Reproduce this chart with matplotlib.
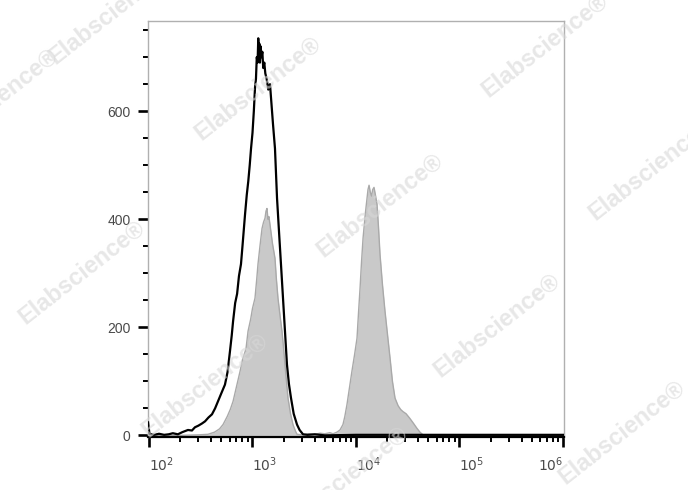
import matplotlib
matplotlib.use("Agg")
import matplotlib.pyplot as plt
import numpy as np

# black open histogram (control), fluorescence intensity vs count
ctrl_x = [98, 101, 112, 125, 140, 155, 170, 190, 210, 238, 260, 278, 300, 325,
          348, 375, 406, 435, 464, 500, 542, 575, 606, 630, 649, 680, 710, 740,
          774, 800, 847, 880, 910, 940, 968, 1000, 1030, 1057, 1080, 1100, 1120,
          1137, 1150, 1165, 1180, 1200, 1220, 1245, 1270, 1300, 1330, 1370, 1420,
          1476, 1578, 1649, 1726, 1800, 1884, 2014, 2153, 2250, 2356, 2500, 2692,
          2850, 3077, 3400, 4000, 5000, 10000, 100000, 1000000]
ctrl_y = [24, 3, 1, 3, 1, 2, 4, 2, 6, 10, 9, 15, 18, 22,
          26, 33, 39, 50, 63, 78, 94, 118, 156, 185, 211, 245, 262, 295,
          317, 350, 409, 445, 470, 500, 531, 560, 600, 643, 660, 700, 690,
          735, 700, 725, 690, 720, 700, 710, 680, 690, 670, 660, 640,
          650, 576, 531, 439, 380, 317, 224, 131, 95, 69, 40, 20,
          10, 2, 1, 2, 0, 1, 1, 1]

# grey filled histogram (stained sample), two populations
stain_x = [98, 200, 300, 372, 430, 480, 519, 570, 610, 649, 700, 757, 800, 865,
           906, 960, 1000, 1057, 1100, 1130, 1180, 1236, 1280, 1321, 1350, 1380,
           1410, 1440, 1476, 1560, 1649, 1700, 1763, 1850, 1927, 2000, 2060, 2130,
           2203, 2330, 2461, 2600, 2692, 3000, 3500, 4000, 4500, 5000, 5600, 6000,
           6546, 7000, 7480, 7800, 8180, 8600, 9140, 9700, 10230, 10600, 10940,
           11300, 11700, 12300, 13060, 13370, 13750, 14130, 14500, 14930, 15400,
           15960, 16500, 17060, 18000, 19060, 20200, 21330, 22500, 23830, 25500,
           27000, 28450, 30500, 33270, 36000, 38820, 41500, 44360, 50000, 1000000]
stain_y = [0, 0, 1, 2, 6, 12, 20, 35, 48, 63, 90, 118, 140, 160,
           193, 215, 235, 254, 290, 317, 350, 383, 395, 402, 415, 420,
           400, 405, 390, 355, 328, 290, 254, 220, 193, 160, 131, 100,
           69, 40, 20, 8, 2, 1, 3, 2, 4, 3, 5, 3,
           6, 10, 20, 35, 57, 85, 119, 150, 180, 230, 272,
           320, 365, 410, 455, 463, 450, 443, 455, 459, 445,
           428, 385, 335, 280, 230, 185, 143, 100, 69, 55,
           48, 44, 40, 31, 22, 13, 6, 1, 0, 0]

xtick_vals = [1e2, 1e3, 1e4, 1e5, 1e6]
xtick_text = ["$10^{2}$", "$10^{3}$", "$10^{4}$", "$10^{5}$", "$10^{6}$"]
ytick_vals = [0, 200, 400, 600]

watermark = "Elabscience\u00ae"
# watermark centres in pixels (x, y from top)
wm_pos = [(112, 12), (-5, 100), (258, 88), (545, 45), (380, 205), (652, 168),
          (82, 272), (497, 325), (205, 385), (622, 432), (345, 478)]

plt.rcParams['font.family'] = ['Liberation Sans', 'DejaVu Sans']

fig = plt.figure(figsize=(6.88, 4.90), dpi=100)
ax = fig.add_axes([148 / 688, 1 - 437 / 490, 416 / 688, 416 / 490])

ax.fill_between(stain_x, stain_y, 0, color='#c9c9c9', lw=0, zorder=1)
ax.plot(stain_x, stain_y, color='#a9a9a9', lw=1.0, zorder=2)
ax.plot(ctrl_x, ctrl_y, color='black', lw=1.6, zorder=3)

ax.set_xscale('log')
ax.set_xlim(97.8, 1.0226e6)
ax.set_ylim(-3, 767)

ax.set_xticks(xtick_vals)
ax.set_xticklabels(xtick_text)
ax.xaxis.set_minor_locator(matplotlib.ticker.LogLocator(base=10, subs=np.arange(2, 10)))
ax.xaxis.set_minor_formatter(matplotlib.ticker.NullFormatter())
ax.set_yticks(ytick_vals)
ax.yaxis.set_minor_locator(matplotlib.ticker.MultipleLocator(50))

ax.tick_params(which='major', length=7.5, width=1.9, color='black',
               labelsize=10, labelcolor='#4a4a4a', pad=5)
ax.tick_params(which='minor', length=3.5, width=1.4, color='black')
ax.tick_params(axis='x', which='major', pad=6)

for lab in ax.get_xticklabels():
    lab.set_horizontalalignment('left')
ax.get_xticklabels()[-1].set_horizontalalignment('right')

for side in ['top', 'right', 'left']:
    ax.spines[side].set_color('#b0b0b0')
    ax.spines[side].set_linewidth(1.0)
ax.spines['bottom'].set_color('black')
ax.spines['bottom'].set_linewidth(1.6)

for px, py in wm_pos:
    fig.text(px / 688, 1 - py / 490, watermark, rotation=38, ha='center',
             va='center', fontsize=17, fontweight='bold', color='#d8d8d8',
             alpha=0.6, zorder=10)

fig.savefig('out.png', dpi=100)
